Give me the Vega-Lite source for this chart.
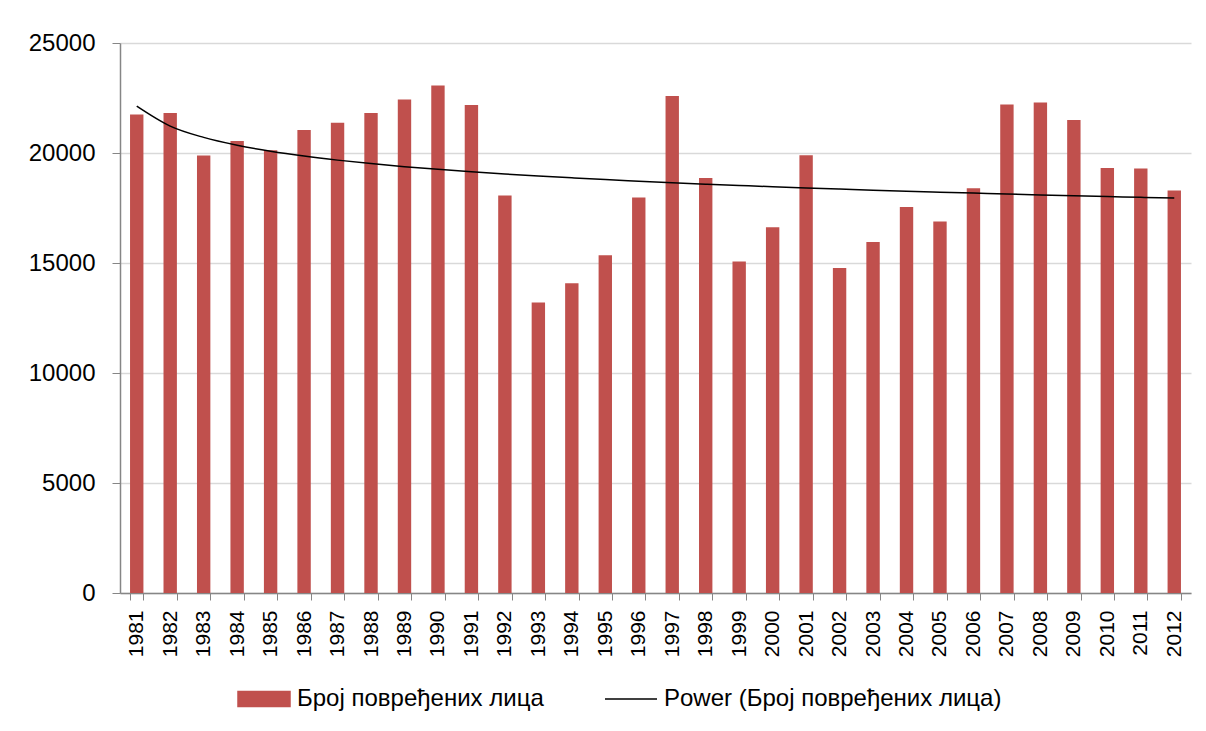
{
  "$schema": "https://vega.github.io/schema/vega-lite/v6.json",
  "width": 1071,
  "height": 550,
  "autosize": {"type": "none"},
  "padding": {"left": 120, "top": 43, "right": 15, "bottom": 138},
  "background": "white",
  "config": {
    "view": {"stroke": null},
    "font": "Liberation Sans"
  },
  "data": {
    "values": [
      {"year": "1981", "injured": 21750, "trend": 22130},
      {"year": "1982", "injured": 21820, "trend": 21223},
      {"year": "1983", "injured": 19890, "trend": 20709},
      {"year": "1984", "injured": 20540, "trend": 20353},
      {"year": "1985", "injured": 20130, "trend": 20081},
      {"year": "1986", "injured": 21040, "trend": 19860},
      {"year": "1987", "injured": 21370, "trend": 19676},
      {"year": "1988", "injured": 21820, "trend": 19519},
      {"year": "1989", "injured": 22430, "trend": 19380},
      {"year": "1990", "injured": 23070, "trend": 19257},
      {"year": "1991", "injured": 22180, "trend": 19147},
      {"year": "1992", "injured": 18070, "trend": 19046},
      {"year": "1993", "injured": 13210, "trend": 18954},
      {"year": "1994", "injured": 14080, "trend": 18870},
      {"year": "1995", "injured": 15350, "trend": 18791},
      {"year": "1996", "injured": 17980, "trend": 18718},
      {"year": "1997", "injured": 22590, "trend": 18649},
      {"year": "1998", "injured": 18860, "trend": 18585},
      {"year": "1999", "injured": 15070, "trend": 18525},
      {"year": "2000", "injured": 16620, "trend": 18467},
      {"year": "2001", "injured": 19900, "trend": 18412},
      {"year": "2002", "injured": 14770, "trend": 18361},
      {"year": "2003", "injured": 15950, "trend": 18312},
      {"year": "2004", "injured": 17540, "trend": 18264},
      {"year": "2005", "injured": 16890, "trend": 18220},
      {"year": "2006", "injured": 18400, "trend": 18177},
      {"year": "2007", "injured": 22200, "trend": 18136},
      {"year": "2008", "injured": 22290, "trend": 18096},
      {"year": "2009", "injured": 21500, "trend": 18058},
      {"year": "2010", "injured": 19320, "trend": 18021},
      {"year": "2011", "injured": 19300, "trend": 17985},
      {"year": "2012", "injured": 18300, "trend": 17950}
    ]
  },
  "encoding": {
    "x": {
      "field": "year",
      "type": "ordinal",
      "scale": {"paddingInner": 0.6, "paddingOuter": 0.3},
      "axis": {
        "title": null,
        "labelAngle": 270,
        "labelFont": "Liberation Sans",
        "labelFontSize": 21,
        "labelColor": "black",
        "labelPadding": 10,
        "tickSize": 7,
        "tickBand": "extent",
        "tickColor": "#868686",
        "domainColor": "#868686",
        "domainWidth": 1.5,
        "grid": false
      }
    }
  },
  "layer": [
    {
      "mark": {"type": "bar", "fill": "#C0504D"},
      "encoding": {
        "y": {
          "field": "injured",
          "type": "quantitative",
          "scale": {"domain": [0, 25000], "nice": false},
          "axis": {
            "title": null,
            "values": [0, 5000, 10000, 15000, 20000, 25000],
            "format": "d",
            "labelFont": "Liberation Sans",
            "labelFontSize": 24,
            "labelColor": "black",
            "labelPadding": 17,
            "tickSize": 8,
            "tickColor": "#868686",
            "domainColor": "#868686",
            "domainWidth": 1.5,
            "gridColor": "#D9D9D9",
            "gridWidth": 1.5
          }
        },
        "color": {
          "datum": "Број повређених лица",
          "type": "nominal",
          "scale": {
            "domain": ["Број повређених лица", "Power (Број повређених лица)"],
            "range": ["#C0504D", "black"]
          },
          "legend": {
            "orient": "none",
            "legendX": 117,
            "legendY": 629,
            "direction": "horizontal",
            "title": null,
            "padding": 0,
            "labelFont": "Liberation Sans",
            "labelFontSize": 24,
            "labelColor": "black",
            "labelLimit": 0,
            "labelOffset": 6,
            "columnPadding": 58,
            "symbolSize": 2704,
            "encode": {
              "symbols": {
                "update": {
                  "shape": {"signal": "datum.value === 'Број повређених лица' ? 'M-1,-0.29H1V0.29H-1Z' : 'stroke'"},
                  "fill": {"signal": "datum.value === 'Број повређених лица' ? '#C0504D' : 'transparent'"},
                  "stroke": {"signal": "datum.value === 'Број повређених лица' ? 'transparent' : 'black'"},
                  "strokeWidth": {"value": 1.5},
                  "opacity": {"value": 1}
                }
              }
            }
          }
        }
      }
    },
    {
      "mark": {"type": "line", "strokeWidth": 1.5, "interpolate": "monotone"},
      "encoding": {
        "y": {"field": "trend", "type": "quantitative"},
        "color": {"datum": "Power (Број повређених лица)", "type": "nominal"}
      }
    }
  ]
}
